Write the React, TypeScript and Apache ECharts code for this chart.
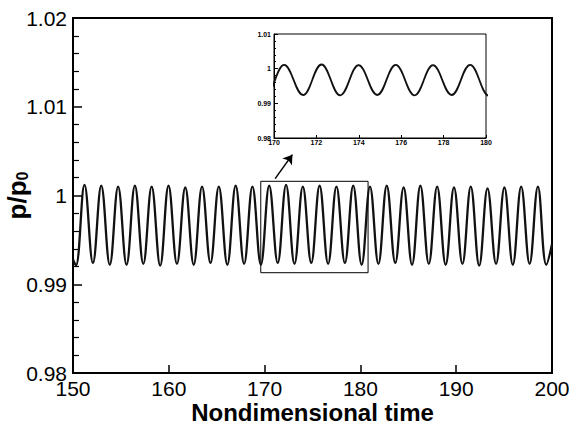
import React, { useEffect, useRef } from "react";
import * as echarts from "echarts";

// Tick labels / axis ranges
const xTicks = [150, 160, 170, 180, 190, 200];
const yTickLabels = ["0.98", "0.99", "1", "1.01", "1.02"];

// Oscillation extrema
const peakTimes = [
  151.2, 152.95, 154.71, 156.46, 158.21, 159.97, 161.72, 163.47, 165.22, 166.98,
  168.73, 170.48, 172.24, 173.99, 175.74, 177.5, 179.25, 181.0, 182.75, 184.51,
  186.26, 188.01, 189.77, 191.52, 193.27, 195.03, 196.78, 198.53,
];
const peakValues = [
  1.0012, 1.0011, 1.001, 1.0011, 1.001, 1.0011, 1.0009, 1.001, 1.001, 1.0011,
  1.001, 1.0011, 1.0012, 1.001, 1.0011, 1.001, 1.0011, 1.001, 1.0011, 1.0009,
  1.0011, 1.001, 1.0009, 1.001, 1.0008, 1.0009, 1.001, 1.001,
];
const troughTimes = [
  150.3, 152.08, 153.84, 155.59, 157.34, 159.1, 160.85, 162.6, 164.35, 166.11,
  167.86, 169.61, 171.37, 173.12, 174.87, 176.63, 178.38, 180.13, 181.88, 183.64,
  185.39, 187.14, 188.9, 190.65, 192.4, 194.16, 195.91, 197.66, 199.41,
];
const troughValues = [
  0.9921, 0.9924, 0.9922, 0.9922, 0.9923, 0.9921, 0.9923, 0.9922, 0.9924, 0.9922,
  0.9923, 0.9922, 0.9924, 0.9923, 0.9924, 0.9923, 0.9924, 0.9922, 0.9923, 0.9924,
  0.9922, 0.9923, 0.9922, 0.9923, 0.9921, 0.9923, 0.9922, 0.9923, 0.9922,
];
const startPoint = [150.0, 0.9928];
const endPoint = [200.0, 0.9945];

// Zoom box and arrow (data coordinates)
const zoomBox = [
  [169.6, 1.0016],
  [180.8, 0.9913],
];
const arrowFrom = [171.1, 1.0019];
const arrowTo = [172.9, 1.0046];

function buildData(): number[][] {
  const pts: number[][] = [startPoint];
  peakTimes.forEach((t, i) => pts.push([t, peakValues[i]]));
  troughTimes.forEach((t, i) => pts.push([t, troughValues[i]]));
  pts.push(endPoint);
  pts.sort((a, b) => a[0] - b[0]);
  return pts;
}

export default function App() {
  const ref = useRef<HTMLDivElement>(null);
  useEffect(() => {
    document.body.style.margin = "0";
    if (!ref.current) return;
    const chart = echarts.init(ref.current, null, { renderer: "svg" });
    const data = buildData();
    const font = "'Liberation Sans', Arial, sans-serif";
    const yFmt = (v: number) => {
      const idx = Math.round((v - 0.98) / 0.01);
      return yTickLabels[idx] ?? String(v);
    };
    chart.setOption({
      animation: false,
      backgroundColor: "#fff",
      grid: [
        {
          left: 73,
          right: 18,
          top: 18,
          bottom: 64,
          containLabel: false,
          outerBoundsMode: "none",
          show: true,
          borderColor: "#000",
          borderWidth: 2,
          backgroundColor: "transparent",
        },
        {
          left: 274,
          right: 84,
          top: 34,
          bottom: 299,
          containLabel: false,
          outerBoundsMode: "none",
          show: true,
          borderColor: "#000",
          borderWidth: 1,
          backgroundColor: "#fff",
        },
      ],
      xAxis: [
        {
          type: "value",
          gridIndex: 0,
          min: xTicks[0],
          max: xTicks[xTicks.length - 1],
          interval: 10,
          name: "Nondimensional time",
          nameLocation: "middle",
          nameGap: 27,
          nameMoveOverlap: false,
          nameTextStyle: { fontFamily: font, fontSize: 24, fontWeight: "bold", color: "#000" },
          axisLine: { show: true, lineStyle: { color: "#000", width: 2 } },
          axisTick: { show: true, inside: true, length: 8, lineStyle: { color: "#000", width: 1.5 } },
          axisLabel: { fontFamily: font, fontSize: 21, color: "#000", margin: 5 },
          splitLine: { show: false },
        },
        {
          type: "value",
          gridIndex: 1,
          min: 170,
          max: 180,
          interval: 2,
          axisLine: { show: true, lineStyle: { color: "#000", width: 1 } },
          axisTick: { show: true, inside: true, length: 3, lineStyle: { color: "#000", width: 1 } },
          axisLabel: { fontFamily: font, fontSize: 7, fontWeight: "bold", color: "#000", margin: 1 },
          splitLine: { show: false },
        },
      ],
      yAxis: [
        {
          type: "value",
          gridIndex: 0,
          min: 0.98,
          max: 1.02,
          interval: 0.01,
          name: "p/p{sub|0}",
          nameLocation: "middle",
          nameRotate: 90,
          nameGap: 43,
          nameMoveOverlap: false,
          nameTextStyle: {
            fontFamily: font,
            fontSize: 26,
            fontWeight: "bold",
            color: "#000",
            rich: {
              sub: {
                fontFamily: font,
                fontSize: 16,
                fontWeight: "bold",
                color: "#000",
                verticalAlign: "bottom",
                padding: [10, 0, 0, 0],
              },
            },
          },
          axisLine: { show: true, lineStyle: { color: "#000", width: 2 } },
          axisTick: { show: true, inside: true, length: 9, lineStyle: { color: "#000", width: 1.5 } },
          minorTick: { show: true, splitNumber: 5, length: 6, lineStyle: { color: "#000", width: 1.2 } },
          axisLabel: { fontFamily: font, fontSize: 21, color: "#000", margin: 6, formatter: yFmt },
          splitLine: { show: false },
        },
        {
          type: "value",
          gridIndex: 1,
          min: 0.98,
          max: 1.01,
          interval: 0.01,
          axisLine: { show: true, lineStyle: { color: "#000", width: 1 } },
          axisTick: { show: true, inside: true, length: 4, lineStyle: { color: "#000", width: 1 } },
          minorTick: { show: true, splitNumber: 5, length: 2, lineStyle: { color: "#000", width: 1 } },
          axisLabel: { fontFamily: font, fontSize: 7, fontWeight: "bold", color: "#000", margin: 3, formatter: yFmt },
          splitLine: { show: false },
        },
      ],
      series: [
        {
          type: "line",
          xAxisIndex: 0,
          yAxisIndex: 0,
          data,
          smooth: 0.4,
          showSymbol: false,
          symbol: "none",
          lineStyle: { color: "#111", width: 2.3 },
          markArea: {
            silent: true,
            label: { show: false },
            itemStyle: { color: "rgba(0,0,0,0)", borderColor: "#000", borderWidth: 1 },
            data: [[{ coord: zoomBox[0] }, { coord: zoomBox[1] }]],
          },
          markLine: {
            silent: true,
            symbol: ["none", "arrow"],
            symbolSize: 9,
            label: { show: false },
            lineStyle: { color: "#000", width: 1.5, type: "solid" },
            data: [[{ coord: arrowFrom }, { coord: arrowTo }]],
          },
        },
        {
          type: "line",
          xAxisIndex: 1,
          yAxisIndex: 1,
          data,
          smooth: 0.4,
          showSymbol: false,
          symbol: "none",
          clip: true,
          lineStyle: { color: "#111", width: 1.8 },
        },
      ],
    });
    return () => chart.dispose();
  }, []);
  return <div ref={ref} style={{ width: 570, height: 437 }} />;
}
